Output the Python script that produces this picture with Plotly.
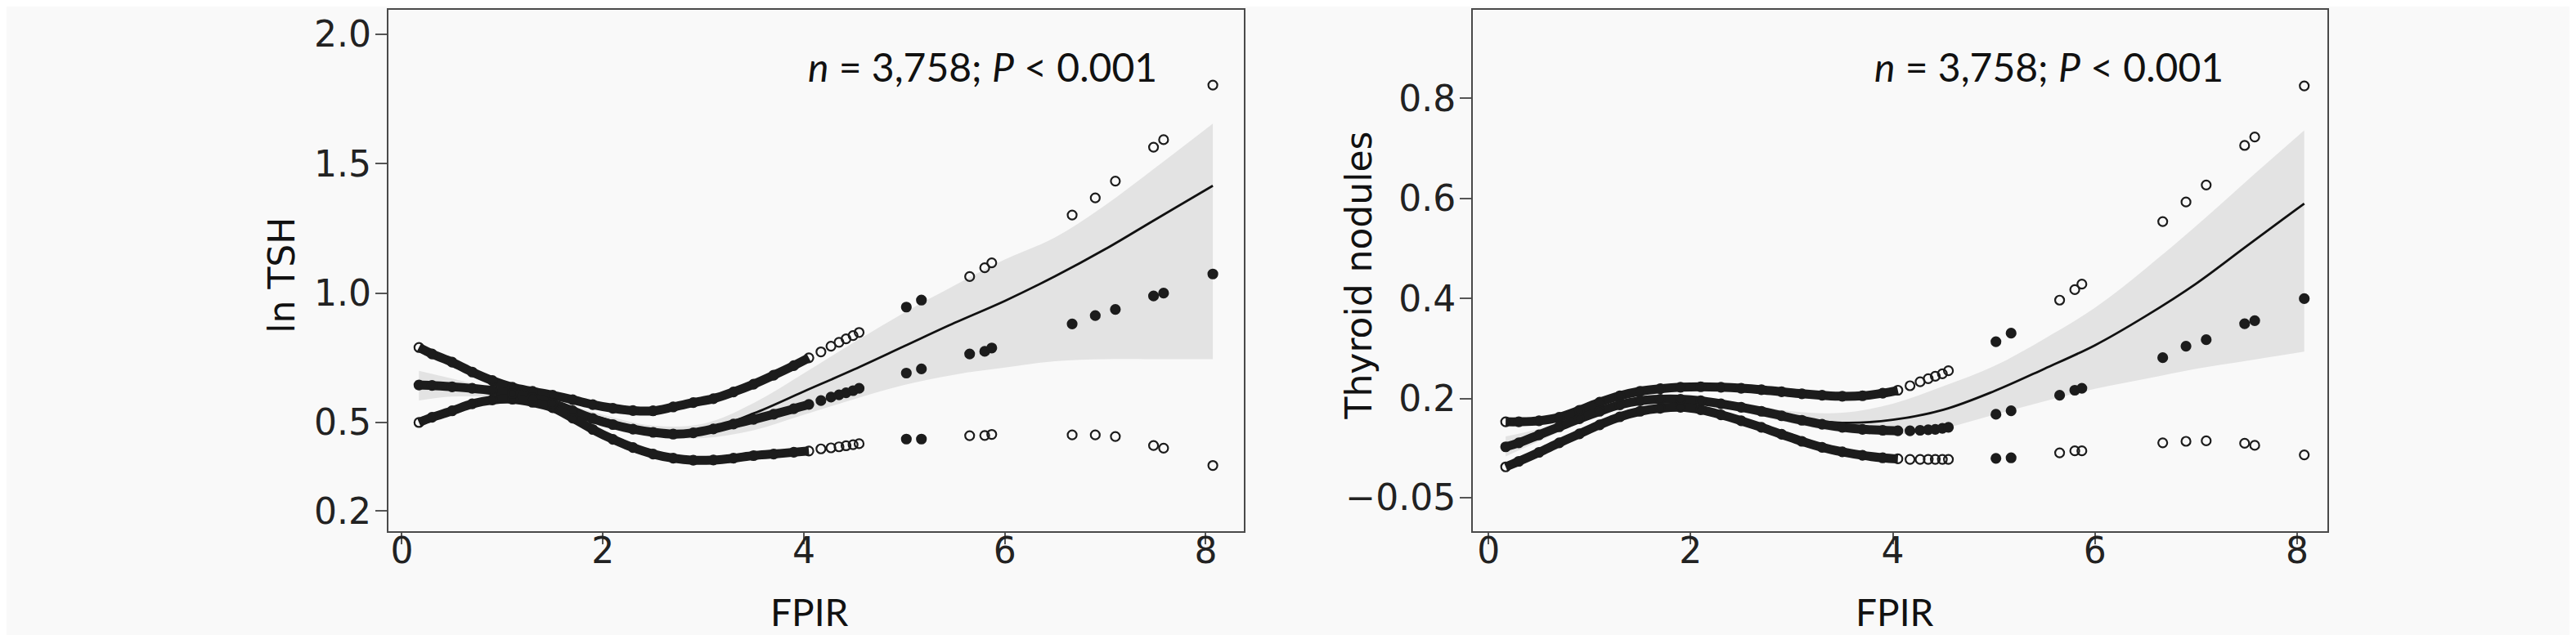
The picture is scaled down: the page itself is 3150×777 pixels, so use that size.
import plotly.graph_objects as go

# -- FPIR values (shared by both panels)
fpir = [0.17, 0.3, 0.5, 0.7, 0.9, 1.1, 1.3, 1.5, 1.7, 1.9, 2.1, 2.3, 2.5, 2.7,
        2.9, 3.1, 3.3, 3.5, 3.7, 3.9, 4.05,
        4.17, 4.27, 4.35, 4.42, 4.49, 4.55,
        5.02, 5.17, 5.65, 5.8, 5.87, 6.67, 6.9, 7.1, 7.48, 7.58, 8.07]

# -- ln TSH panel
tsh_upper = [0.79, 0.765, 0.733, 0.695, 0.662, 0.636, 0.62, 0.605, 0.588, 0.569,
             0.555, 0.546, 0.545, 0.56, 0.577, 0.592, 0.618, 0.648, 0.683, 0.72, 0.75,
             0.773, 0.795, 0.81, 0.823, 0.836, 0.848,
             0.946, 0.973, 1.064, 1.098, 1.117, 1.302, 1.368, 1.433, 1.564, 1.593, 1.804]
tsh_mid = [0.645, 0.643, 0.638, 0.632, 0.624, 0.612, 0.596, 0.574, 0.545, 0.515,
           0.492, 0.474, 0.462, 0.455, 0.46, 0.475, 0.494, 0.512, 0.532, 0.553, 0.57,
           0.585, 0.598, 0.607, 0.615, 0.623, 0.632,
           0.691, 0.707, 0.765, 0.775, 0.788, 0.881, 0.913, 0.937, 0.989, 1.0, 1.074]
tsh_lower = [0.50, 0.52, 0.545, 0.572, 0.587, 0.59, 0.578, 0.557, 0.517, 0.473,
             0.435, 0.403, 0.378, 0.362, 0.354, 0.355, 0.362, 0.372, 0.378, 0.385, 0.39,
             0.398, 0.402, 0.406, 0.41, 0.414, 0.418,
             0.436, 0.436, 0.449, 0.45, 0.454, 0.452, 0.452, 0.446, 0.411, 0.401, 0.334]

# -- Thyroid nodules panel
nod_upper = [0.154, 0.154, 0.156, 0.163, 0.177, 0.193, 0.206, 0.215, 0.22, 0.223,
             0.224, 0.223, 0.221, 0.218, 0.214, 0.21, 0.207, 0.205, 0.206, 0.211, 0.217,
             0.226, 0.234, 0.24, 0.245, 0.25, 0.256,
             0.314, 0.331, 0.397, 0.418, 0.429, 0.554, 0.593, 0.627, 0.706, 0.723, 0.825]
nod_mid = [0.104, 0.112, 0.128, 0.144, 0.16, 0.175, 0.188, 0.196, 0.199, 0.199,
           0.196, 0.19, 0.183, 0.175, 0.166, 0.157, 0.149, 0.143, 0.139, 0.137, 0.136,
           0.136, 0.137, 0.138, 0.139, 0.141, 0.143,
           0.169, 0.176, 0.207, 0.217, 0.221, 0.282, 0.305, 0.318, 0.35, 0.356, 0.4]
nod_lower = [0.064, 0.075, 0.093, 0.112, 0.13, 0.148, 0.164, 0.175, 0.181, 0.183,
             0.178, 0.168, 0.156, 0.143, 0.129, 0.115, 0.103, 0.094, 0.087, 0.082, 0.08,
             0.079, 0.079, 0.079, 0.079, 0.079, 0.079,
             0.081, 0.082, 0.092, 0.096, 0.096, 0.112, 0.115, 0.116, 0.111, 0.107, 0.088]

# -- fitted curves and 95% CI
fit_x = [0.17, 0.5, 1, 1.5, 2, 2.5, 3, 3.5, 4, 4.5, 5, 5.5, 6, 6.5, 7, 7.5, 8.07]
tsh_fit = [0.645, 0.637, 0.61, 0.573, 0.515, 0.468, 0.47, 0.535, 0.62, 0.705,
           0.795, 0.885, 0.97, 1.065, 1.17, 1.285, 1.415]
tsh_ci_hi = [0.70, 0.67, 0.625, 0.585, 0.53, 0.488, 0.495, 0.575, 0.69, 0.81,
             0.925, 1.03, 1.13, 1.215, 1.34, 1.485, 1.655]
tsh_ci_lo = [0.585, 0.60, 0.595, 0.56, 0.50, 0.448, 0.44, 0.47, 0.53, 0.59,
             0.645, 0.685, 0.712, 0.737, 0.745, 0.745, 0.745]
nod_fit = [0.104, 0.128, 0.168, 0.196, 0.198, 0.183, 0.163, 0.152, 0.158, 0.178,
           0.215, 0.26, 0.307, 0.365, 0.43, 0.505, 0.59]
nod_ci_hi = [0.125, 0.14, 0.175, 0.204, 0.207, 0.192, 0.175, 0.172, 0.19, 0.225,
             0.265, 0.32, 0.382, 0.46, 0.545, 0.635, 0.736]
nod_ci_lo = [0.085, 0.115, 0.16, 0.188, 0.189, 0.174, 0.151, 0.133, 0.128, 0.141,
             0.168, 0.195, 0.22, 0.24, 0.26, 0.276, 0.294]

# -- tick labels
x_ticks = [0, 2, 4, 6, 8]
tsh_tickvals = [0.158, 0.5, 1.0, 1.5, 2.0]
tsh_ticktext = ['0.2', '0.5', '1.0', '1.5', '2.0']
nod_tickvals = [0.0025, 0.2, 0.4, 0.6, 0.8]
nod_ticktext = ['\u22120.05', '0.2', '0.4', '0.6', '0.8']

INK = '#1c1c1c'
BAND = '#e3e3e3'
n_dense = sum(1 for v in fpir if v <= 4.05)
# points where several open circles overlap look filled
open_sym = ['circle' if 4.9 < v < 5.3 else 'circle-open' for v in fpir]


def add_panel(fig, xa, ya, fit, lo, hi, upper, mid, lower):
    # banda de confianca
    fig.add_trace(go.Scatter(x=fit_x, y=lo, xaxis=xa, yaxis=ya, mode='lines',
                             line=dict(width=0, shape='spline', color=BAND),
                             hoverinfo='skip'))
    fig.add_trace(go.Scatter(x=fit_x, y=hi, xaxis=xa, yaxis=ya, mode='lines',
                             line=dict(width=0, shape='spline', color=BAND),
                             fill='tonexty', fillcolor=BAND, hoverinfo='skip'))
    fig.add_trace(go.Scatter(x=fit_x, y=fit, xaxis=xa, yaxis=ya, mode='lines',
                             line=dict(width=2.8, shape='spline', color='#111111')))
    # dense part drawn as thick bands
    for ys in (upper, mid, lower):
        fig.add_trace(go.Scatter(x=fpir[:n_dense], y=ys[:n_dense], xaxis=xa, yaxis=ya,
                                 mode='lines',
                                 line=dict(width=11, shape='spline', color=INK)))
    for ys, sym in ((upper, open_sym), (lower, open_sym), (mid, 'circle')):
        fig.add_trace(go.Scatter(x=fpir, y=ys, xaxis=xa, yaxis=ya, mode='markers',
                                 marker=dict(symbol=sym, size=11, color=INK,
                                             line=dict(width=2.2, color=INK))))


fig = go.Figure()
add_panel(fig, 'x', 'y', tsh_fit, tsh_ci_lo, tsh_ci_hi, tsh_upper, tsh_mid, tsh_lower)
add_panel(fig, 'x2', 'y2', nod_fit, nod_ci_lo, nod_ci_hi, nod_upper, nod_mid, nod_lower)

axis_style = dict(showline=True, mirror=True, linecolor='#4a4a4a', linewidth=2,
                  showgrid=False, zeroline=False, ticks='outside', ticklen=14,
                  tickwidth=2, tickcolor='#555555',
                  tickfont=dict(family='DejaVu Sans', size=44, color='#222222'))
x_style = dict(tickvals=x_ticks, ticklabelstandoff=-30, **axis_style)
ydom = [0.1734, 0.9949]
fig.update_layout(
    width=3150, height=777, showlegend=False,
    margin=dict(l=0, r=0, t=0, b=0),
    paper_bgcolor='#f9f9f9', plot_bgcolor='#f9f9f9',
    xaxis=dict(domain=[0.1482, 0.4803], range=[-0.135, 8.378], **x_style),
    yaxis=dict(domain=ydom, range=[0.079, 2.095], tickvals=tsh_tickvals,
               ticktext=tsh_ticktext, ticklabelstandoff=-4, **axis_style),
    xaxis2=dict(domain=[0.5692, 0.9010], range=[-0.155, 8.30], anchor='y2', **x_style),
    yaxis2=dict(domain=ydom, range=[-0.065, 0.977], tickvals=nod_tickvals,
                ticktext=nod_ticktext, anchor='x2', ticklabelstandoff=-4, **axis_style),
)

title_font = dict(family='DejaVu Sans', size=44, color='#111111')
lato = dict(family='Lato', size=46, color='#111111')
stat = '<i>n</i> = 3,758; <i>P</i> &lt; 0.001'
for x, txt in ((0.107, 'ln TSH'), (0.525, 'Thyroid nodules')):
    fig.add_annotation(x=x, y=0.577, xref='paper', yref='paper', text=txt,
                       xanchor='center', yanchor='middle',
                       textangle=-90, showarrow=False, font=title_font)
for x in (0.3116, 0.7329):
    fig.add_annotation(x=x, y=0.047, xref='paper', yref='paper', text='FPIR',
                       xanchor='center', yanchor='middle',
                       showarrow=False, font=lato)
for x in (0.3789, 0.7927):
    fig.add_annotation(x=x, y=0.906, xref='paper', yref='paper', text=stat,
                       xanchor='center', yanchor='middle',
                       showarrow=False, font=dict(family='Lato', size=48, color='#111111'))

fig.write_html('out.html')
